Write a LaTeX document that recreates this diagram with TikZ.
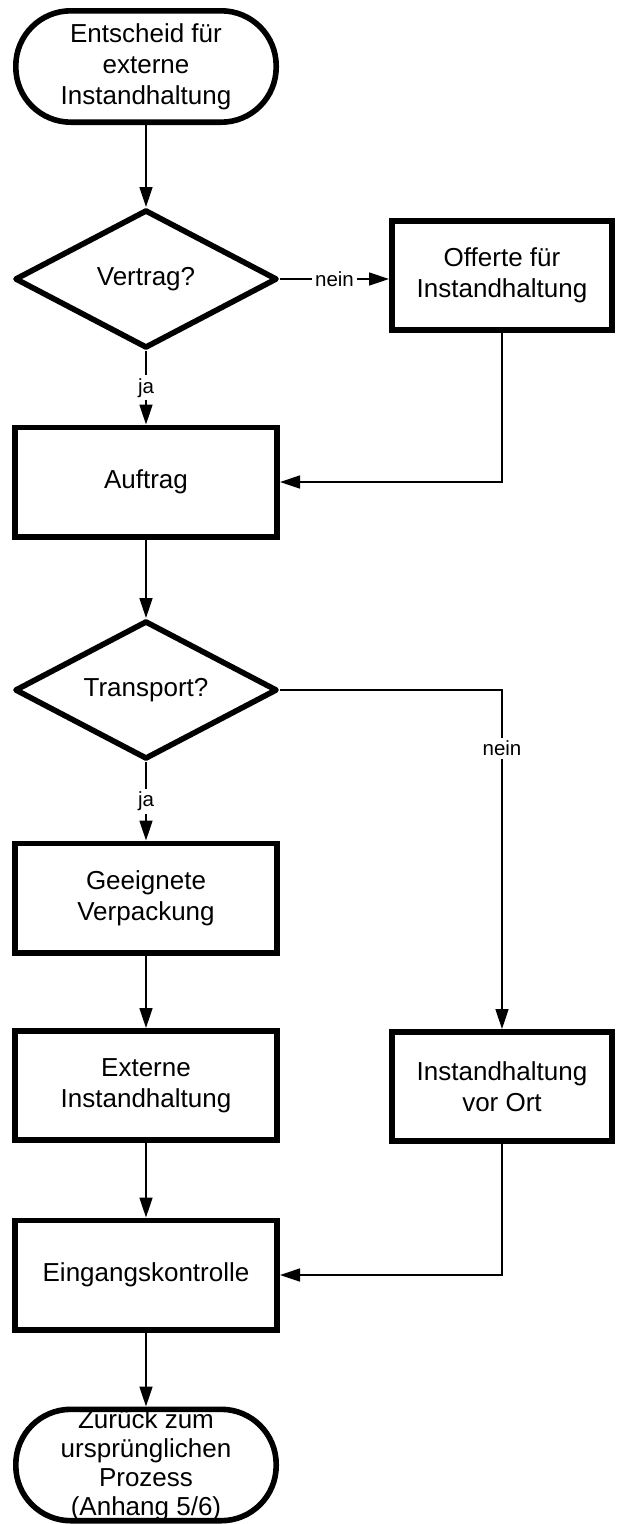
\documentclass[tikz,border=0pt]{standalone}
\usepackage{fontspec}
\setmainfont{Liberation Sans}
\usetikzlibrary{arrows.meta,shapes.geometric}
\begin{document}
\begin{tikzpicture}[x=1pt,y=-1pt,
  txt/.style={align=center,font=\fontsize{26}{31}\selectfont},
  box/.style={txt,draw,line width=5.6pt,rectangle,minimum width=262.4pt,minimum height=109.4pt,inner sep=0pt},
  sidebox/.style={box,minimum width=220.4pt},
  decision/.style={txt,draw,line width=5.6pt,diamond,aspect=1.9,minimum width=262.4pt,minimum height=138.4pt,inner sep=0pt,line join=round},
  terminal/.style={draw,line width=5.6pt,rectangle,rounded corners=55pt,minimum width=260.4pt,minimum height=111.4pt,inner sep=0pt},
  flow/.style={line width=1.5pt,-{Triangle[length=20pt,width=13pt]}},
  lbl/.style={fill=white,inner sep=3pt,font=\fontsize{20.5}{24}\selectfont}
]
\useasboundingbox (0,0) rectangle (617,1524);

% process steps
\node[terminal] (start) at (146,66.5) {};
\node[txt] at (start.center) {Entscheid für\\externe\\Instandhaltung};
\node[decision] (vertrag) at (146,279) {Vertrag?};
\node[sidebox] (offerte) at (502,275.5) {Offerte für\\Instandhaltung};
\node[box] (auftrag) at (146,482) {Auftrag};
\node[decision] (transport) at (146,690) {Transport?};
\node[box] (geeignet) at (146,898) {Geeignete\\Verpackung};
\node[box] (extern) at (146,1085.5) {Externe\\Instandhaltung};
\node[sidebox] (vorort) at (502,1086.5) {Instandhaltung\\vor Ort};
\node[box] (eingang) at (146,1275) {Eingangskontrolle};
\node[terminal] (ende) at (146,1465) {};
\node[txt,font=\fontsize{26}{29}\selectfont] at (ende.center) {Zurück zum\\ursprünglichen\\Prozess\\(Anhang 5/6)};

% connectors
\draw[flow] (start) -- (vertrag);
\draw[flow] (vertrag.east) -- node[lbl]{nein} (vertrag.east -| offerte.west);
\draw[flow] (vertrag) -- node[lbl]{ja} (auftrag);
\draw[flow] (offerte.south) |- (auftrag.east);
\draw[flow] (auftrag) -- (transport);
\draw[flow] (transport.east) -| node[lbl,pos=0.586]{nein} (vorort.north);
\draw[flow] (transport) -- node[lbl]{ja} (geeignet);
\draw[flow] (geeignet) -- (extern);
\draw[flow] (extern) -- (eingang);
\draw[flow] (vorort.south) |- (eingang.east);
\draw[flow] (eingang) -- (ende);
\end{tikzpicture}
\end{document}
